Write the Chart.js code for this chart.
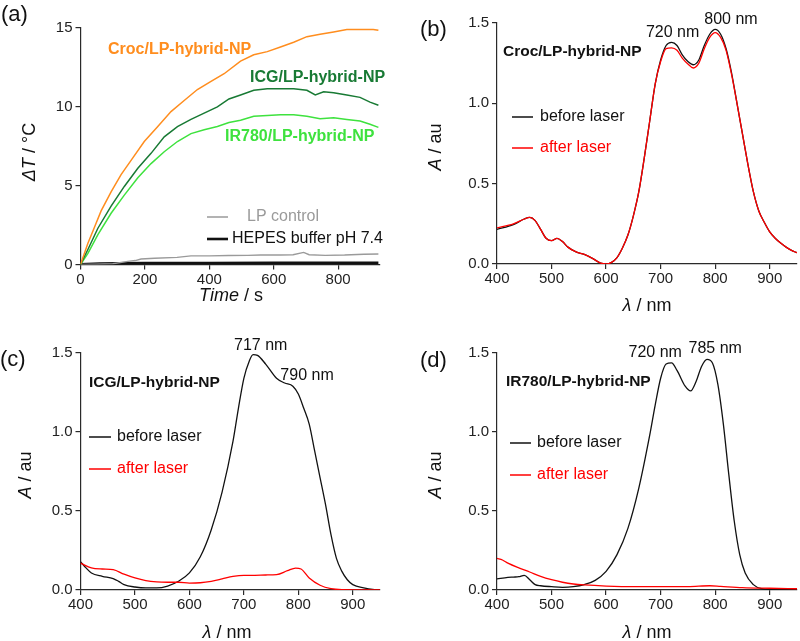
<!DOCTYPE html>
<html lang="en">
<head>
<meta charset="UTF-8">
<title>Photothermal heating and absorption spectra</title>
<script src="https://cdn.jsdelivr.net/npm/chart.js"></script>
<style>
  html, body { margin:0; padding:0; background:#fff; }
  #fig { position:relative; width:800px; height:641px; overflow:hidden; }
  #fig canvas { position:absolute; }
</style>
</head>
<body>
<div id="fig">
  <canvas id="chA" width="400" height="320" style="left:0;top:0"></canvas>
  <canvas id="chB" width="400" height="320" style="left:400px;top:0"></canvas>
  <canvas id="chC" width="400" height="321" style="left:0;top:320px"></canvas>
  <canvas id="chD" width="400" height="321" style="left:400px;top:320px"></canvas>
</div>

<script>
// ---- (a) temperature rise vs time ----
const tCroc  = [0,23,44,64,95,126,157,198,240,281,322,363,404,446,497,538,580,621,662,703,744,786,827,868,909,925];
const dtCroc = [0,1.35,2.4,3.4,4.6,5.7,6.6,7.8,8.75,9.7,10.4,11.1,11.6,12.1,12.9,13.3,13.5,13.8,14.1,14.45,14.6,14.75,14.9,14.9,14.9,14.85];
const tIcg   = [0,23,54,95,136,178,219,260,301,343,384,425,461,497,538,580,621,662,703,729,755,786,827,868,899,925];
const dtIcg  = [0,0.95,2.3,3.7,4.95,6.1,7.05,8.1,8.75,9.2,9.6,10.0,10.5,10.75,11.05,11.15,11.15,11.15,11.05,10.75,10.95,10.9,10.75,10.6,10.3,10.1];
const tIr    = [0,23,54,95,136,178,219,260,301,343,384,425,461,497,538,580,621,662,703,744,786,827,868,899,925];
const dtIr   = [0,0.7,1.9,3.25,4.4,5.5,6.4,7.15,7.8,8.3,8.55,8.75,9.0,9.15,9.4,9.45,9.5,9.5,9.4,9.25,9.3,9.2,9.1,8.9,8.7];
const tLp    = [0,50,100,147,170,188,230,300,343,400,460,520,559,620,660,693,710,760,820,880,925];
const dtLp   = [0,0.02,0.05,0.2,0.25,0.35,0.4,0.45,0.55,0.55,0.57,0.58,0.6,0.6,0.62,0.77,0.62,0.58,0.6,0.65,0.67];
const tHepes = [0,60,120,200,400,600,800,925];
const dtHepes= [0,0.04,0.07,0.08,0.08,0.09,0.09,0.1];

// ---- (b) Croc spectra ----
const wlB       = [400,430,450,460,470,480,490,500,510,520,530,545,560,575,590,600,610,620,630,640,650,660,670,680,690,700,710,720,730,740,750,760,770,780,790,800,810,820,830,840,850,860,870,880,890,900,910,920,930,940,950];
const crocBefore= [0.215,0.245,0.28,0.29,0.27,0.215,0.16,0.145,0.16,0.14,0.105,0.075,0.06,0.035,0.005,0,0.01,0.04,0.1,0.18,0.3,0.45,0.66,0.89,1.12,1.27,1.36,1.38,1.36,1.3,1.26,1.24,1.27,1.36,1.43,1.46,1.43,1.34,1.19,1.0,0.81,0.62,0.45,0.33,0.26,0.2,0.16,0.13,0.105,0.085,0.07];
const crocAfter = [0.225,0.25,0.28,0.29,0.27,0.215,0.16,0.145,0.16,0.14,0.105,0.075,0.06,0.035,0.005,0,0.01,0.04,0.1,0.18,0.3,0.45,0.66,0.89,1.12,1.26,1.34,1.345,1.33,1.28,1.245,1.22,1.25,1.34,1.41,1.44,1.41,1.33,1.18,1.0,0.81,0.62,0.45,0.33,0.26,0.2,0.16,0.13,0.105,0.085,0.07];

// ---- (c) ICG spectra ----
const wlCb      = [400,410,420,440,460,470,480,500,520,540,560,580,600,620,640,660,680,690,700,710,717,725,740,760,775,790,800,810,820,830,840,850,860,870,880,890,900,920,940,950];
const icgBefore = [0.18,0.14,0.108,0.087,0.072,0.055,0.034,0.019,0.013,0.013,0.025,0.055,0.108,0.21,0.38,0.62,0.94,1.15,1.34,1.45,1.49,1.485,1.43,1.34,1.31,1.29,1.24,1.15,1.05,0.88,0.71,0.54,0.35,0.2,0.118,0.065,0.034,0.013,0.002,0];
const wlCa      = [400,420,440,460,480,500,520,540,560,580,600,620,640,660,680,700,720,740,760,780,795,805,820,840,860,880,950];
const icgAfter  = [0.17,0.14,0.133,0.129,0.1,0.076,0.059,0.051,0.049,0.049,0.044,0.046,0.055,0.07,0.086,0.093,0.093,0.095,0.097,0.122,0.139,0.133,0.076,0.03,0.008,0.002,0];

// ---- (d) IR780 spectra ----
const wlDb      = [400,420,430,440,450,460,470,480,500,520,540,560,580,600,620,640,660,680,690,700,710,720,730,745,755,765,775,785,795,805,815,825,835,845,855,870,885,900,950];
const irBefore  = [0.07,0.08,0.082,0.084,0.093,0.065,0.034,0.027,0.021,0.017,0.021,0.034,0.061,0.118,0.224,0.39,0.645,0.98,1.17,1.34,1.43,1.437,1.39,1.29,1.26,1.32,1.415,1.46,1.437,1.3,1.05,0.73,0.435,0.224,0.108,0.034,0.008,0.004,0.004];
const wlDa      = [400,410,420,440,460,480,500,520,540,560,600,650,700,750,790,810,850,900,950];
const irAfter   = [0.2,0.19,0.17,0.14,0.114,0.086,0.065,0.049,0.038,0.032,0.025,0.021,0.021,0.021,0.027,0.023,0.015,0.011,0.008];

// tick values
const timeTicks = [0,200,400,600,800];
const dtTicks   = [0,5,10,15];
const wlTicks   = [400,500,600,700,800,900];
const absTicks  = [0,0.5,1.0,1.5];

const FONT = '"Liberation Sans", Arial, Helvetica, sans-serif';
const AXIS = '#2a2a2a';
const ORANGE = '#ff8d1e', DKGREEN = '#187a34', LTGREEN = '#3ee23e', GREY = '#9a9a9a', RED = '#ff0000';

const pts = (xs, ys) => xs.map((x, i) => ({ x: x, y: ys[i] }));

function drawRich(ctx, parts, x, y, size, color, align, rotate) {
  ctx.save();
  ctx.translate(x, y);
  if (rotate) ctx.rotate(-Math.PI / 2);
  const fontOf = s => (s.includes('i') ? 'italic ' : '') + (s.includes('b') ? 'bold ' : '') + size + 'px ' + FONT;
  let total = 0;
  parts.forEach(p => { ctx.font = fontOf(p[1]); total += ctx.measureText(p[0]).width; });
  let cx = align === 'center' ? -total / 2 : (align === 'right' ? -total : 0);
  ctx.fillStyle = color;
  ctx.textBaseline = 'middle';
  ctx.textAlign = 'left';
  parts.forEach(p => { ctx.font = fontOf(p[1]); ctx.fillText(p[0], cx, 0); cx += ctx.measureText(p[0]).width; });
  ctx.restore();
}

// texts, legend keys and axis titles drawn on top of each panel
function makeDecor(cfg) {
  return {
    id: 'decor',
    afterDraw(chart) {
      const ctx = chart.ctx;
      (cfg.lines || []).forEach(l => {
        ctx.save();
        ctx.strokeStyle = l.color; ctx.lineWidth = l.width || 1.5;
        ctx.beginPath(); ctx.moveTo(l.x1, l.y); ctx.lineTo(l.x2, l.y); ctx.stroke();
        ctx.restore();
      });
      (cfg.texts || []).forEach(t => {
        let x = t.x, y = t.y;
        if (t.data) { x = chart.scales.x.getPixelForValue(t.x); y = chart.scales.y.getPixelForValue(t.y); }
        drawRich(ctx, t.parts, x, y, t.size || 16, t.color || '#111', t.align || 'left', t.rotate);
      });
    }
  };
}

function axis(min, max, ticks, fmt, pad) {
  return {
    type: 'linear', min: min, max: max,
    grid: { display: true, drawOnChartArea: false, drawTicks: true, tickLength: 5, color: AXIS, lineWidth: 1.2 },
    border: { display: true, color: AXIS, width: 1.2 },
    ticks: { font: { family: FONT, size: 15 }, color: '#222', padding: pad, maxRotation: 0, autoSkip: false, callback: fmt },
    afterBuildTicks: s => { s.ticks = ticks.map(v => ({ value: v })); }
  };
}

function line(data, color, width, order, smooth) {
  return {
    data: data, borderColor: color, borderWidth: width, pointRadius: 0, fill: false, order: order,
    tension: smooth ? 0.4 : 0, cubicInterpolationMode: smooth ? 'monotone' : 'default'
  };
}

function panel(id, area, xs, ys, datasets, decor) {
  const cv = document.getElementById(id);
  const W = cv.width, H = cv.height;
  xs.afterFit = s => { s.height = H - area.bottom; s.paddingLeft = 0; s.paddingRight = 0; };
  ys.afterFit = s => { s.width = area.left; s.paddingTop = 0; s.paddingBottom = 0; };
  return new Chart(cv.getContext('2d'), {
    type: 'line',
    data: { datasets: datasets },
    options: {
      responsive: false, animation: false, events: [],
      layout: { padding: { left: 0, top: area.top, right: W - area.right, bottom: 0 } },
      scales: { x: xs, y: ys },
      plugins: { legend: { display: false }, tooltip: { enabled: false } }
    },
    plugins: [makeDecor(decor)]
  });
}

const f1 = v => v.toFixed(1);
const f0 = v => String(v);

// (a)
panel('chA', { left: 80.5, right: 380, top: 28, bottom: 264.5 },
  axis(0, 930, timeTicks, f0, 1), axis(0, 15, dtTicks, f0, 3),
  [
    line(pts(tHepes, dtHepes), '#111', 3, 5, false),
    line(pts(tLp, dtLp), GREY, 1.4, 4, false),
    line(pts(tIr, dtIr), LTGREEN, 1.5, 3, false),
    line(pts(tIcg, dtIcg), DKGREEN, 1.5, 2, false),
    line(pts(tCroc, dtCroc), ORANGE, 1.5, 1, false)
  ],
  {
    lines: [
      { x1: 207, x2: 228, y: 217, color: GREY, width: 1.5 },
      { x1: 207, x2: 228, y: 239, color: '#111', width: 2.6 }
    ],
    texts: [
      { parts: [['(a)', '']], x: 1, y: 15, size: 22 },
      { parts: [['ΔT', 'i'], [' / °C', '']], x: 30, y: 152, size: 18, align: 'center', rotate: true },
      { parts: [['Time', 'i'], [' / s', '']], x: 231, y: 296, size: 18, align: 'center' },
      { parts: [['Croc/LP-hybrid-NP', 'b']], x: 108, y: 50, color: ORANGE },
      { parts: [['ICG/LP-hybrid-NP', 'b']], x: 250, y: 78, color: DKGREEN },
      { parts: [['IR780/LP-hybrid-NP', 'b']], x: 225, y: 137, color: LTGREEN },
      { parts: [['LP control', '']], x: 247, y: 217, color: GREY },
      { parts: [['HEPES buffer pH 7.4', '']], x: 232, y: 239, color: '#111' }
    ]
  });

// (b)
panel('chB', { left: 97, right: 397, top: 23, bottom: 264 },
  axis(400, 950, wlTicks, f0, 1), axis(0, 1.5, absTicks, f1, 3),
  [
    line(pts(wlB, crocAfter), RED, 1.3, 0, true),
    line(pts(wlB, crocBefore), '#111', 1.3, 1, true)
  ],
  {
    lines: [
      { x1: 112, x2: 133, y: 117, color: '#111', width: 1.5 },
      { x1: 112, x2: 133, y: 148, color: RED, width: 1.5 }
    ],
    texts: [
      { parts: [['(b)', '']], x: 20, y: 30, size: 22 },
      { parts: [['A', 'i'], [' / au', '']], x: 36, y: 147, size: 18, align: 'center', rotate: true },
      { parts: [['λ', 'i'], [' / nm', '']], x: 247, y: 306, size: 18, align: 'center' },
      { parts: [['Croc/LP-hybrid-NP', 'b']], x: 103, y: 52, size: 15.5 },
      { parts: [['before laser', '']], x: 140, y: 117 },
      { parts: [['after laser', '']], x: 140, y: 148, color: RED },
      { parts: [['720 nm', '']], x: 722, y: 1.438, data: true, align: 'center' },
      { parts: [['800 nm', '']], x: 829, y: 1.52, data: true, align: 'center' }
    ]
  });

// (c)
panel('chC', { left: 80.5, right: 380, top: 33, bottom: 270 },
  axis(400, 950, wlTicks, f0, 1), axis(0, 1.5, absTicks, f1, 3),
  [
    line(pts(wlCa, icgAfter), RED, 1.3, 0, true),
    line(pts(wlCb, icgBefore), '#111', 1.3, 1, true)
  ],
  {
    lines: [
      { x1: 89, x2: 111, y: 117, color: '#111', width: 1.5 },
      { x1: 89, x2: 111, y: 149, color: RED, width: 1.5 }
    ],
    texts: [
      { parts: [['(c)', '']], x: 0, y: 40, size: 22 },
      { parts: [['A', 'i'], [' / au', '']], x: 26, y: 155, size: 18, align: 'center', rotate: true },
      { parts: [['λ', 'i'], [' / nm', '']], x: 227, y: 313, size: 18, align: 'center' },
      { parts: [['ICG/LP-hybrid-NP', 'b']], x: 89, y: 63, size: 15.5 },
      { parts: [['before laser', '']], x: 117, y: 117 },
      { parts: [['after laser', '']], x: 117, y: 149, color: RED },
      { parts: [['717 nm', '']], x: 731, y: 1.55, data: true, align: 'center' },
      { parts: [['790 nm', '']], x: 816, y: 1.36, data: true, align: 'center' }
    ]
  });

// (d)
panel('chD', { left: 97, right: 397, top: 33, bottom: 270 },
  axis(400, 950, wlTicks, f0, 1), axis(0, 1.5, absTicks, f1, 3),
  [
    line(pts(wlDa, irAfter), RED, 1.3, 0, true),
    line(pts(wlDb, irBefore), '#111', 1.3, 1, true)
  ],
  {
    lines: [
      { x1: 110, x2: 131, y: 123, color: '#111', width: 1.5 },
      { x1: 110, x2: 131, y: 155, color: RED, width: 1.5 }
    ],
    texts: [
      { parts: [['(d)', '']], x: 20, y: 41, size: 22 },
      { parts: [['A', 'i'], [' / au', '']], x: 36, y: 155, size: 18, align: 'center', rotate: true },
      { parts: [['λ', 'i'], [' / nm', '']], x: 247, y: 313, size: 18, align: 'center' },
      { parts: [['IR780/LP-hybrid-NP', 'b']], x: 106, y: 62, size: 15.5 },
      { parts: [['before laser', '']], x: 137, y: 123 },
      { parts: [['after laser', '']], x: 137, y: 155, color: RED },
      { parts: [['720 nm', '']], x: 690, y: 1.5, data: true, align: 'center' },
      { parts: [['785 nm', '']], x: 800, y: 1.525, data: true, align: 'center' }
    ]
  });
</script>
</body>
</html>
